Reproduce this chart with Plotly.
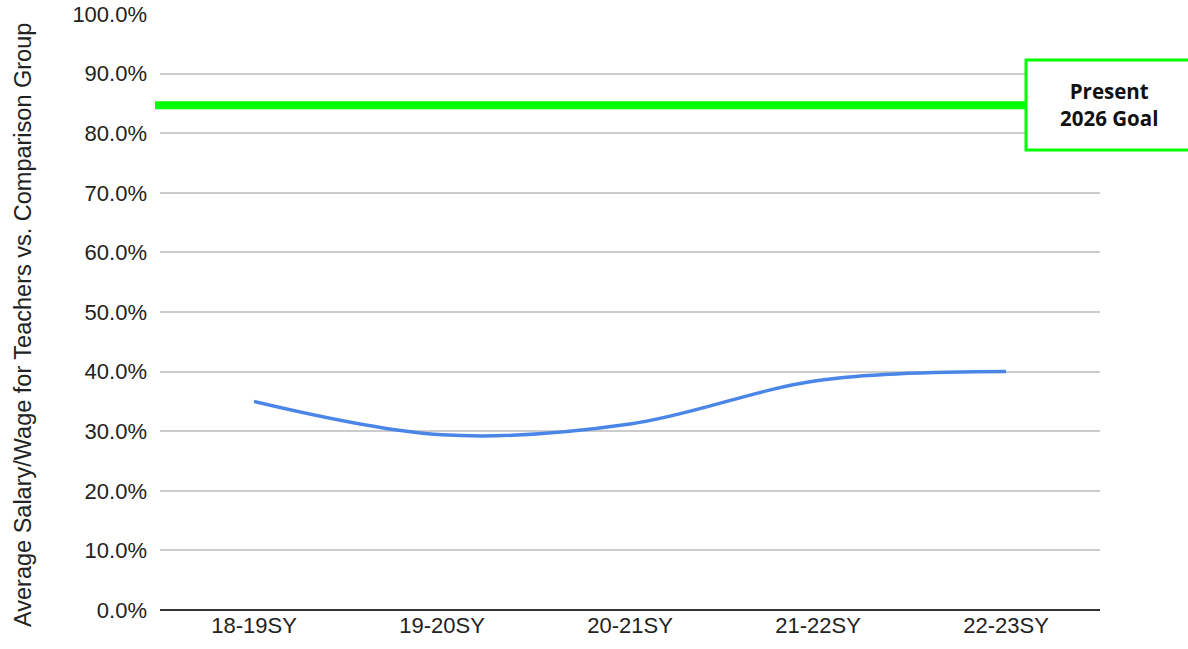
import plotly.graph_objects as go

categories = ["18-19SY", "19-20SY", "20-21SY", "21-22SY", "22-23SY"]
values = [35.0, 29.4, 31.2, 38.5, 40.0]
goal_value = 84.7
goal_label = "Present<br>2026 Goal"
y_ticks = [0, 10, 20, 30, 40, 50, 60, 70, 80, 90, 100]
y_title = "Average Salary/Wage for Teachers vs. Comparison Group"

W, H = 1188, 649
L, R, T, B = 160, 88, 14, 39
pw, ph = W - L - R, H - T - B

def px_x(p):
    return (p - L) / pw

def px_y(p):
    return (H - B - p) / ph

fig = go.Figure()
fig.add_trace(go.Scatter(
    x=categories, y=values, mode="lines",
    line=dict(color="#4a86e8", width=3.5, shape="spline", smoothing=1.0),
    showlegend=False, hoverinfo="x+y",
))

fig.add_shape(type="line", xref="paper", yref="y",
              x0=px_x(155), x1=px_x(1025), y0=goal_value, y1=goal_value,
              line=dict(color="#00ff00", width=8), layer="above")
fig.add_shape(type="rect", xref="paper", yref="paper",
              x0=px_x(1026), x1=px_x(1200), y0=px_y(150), y1=px_y(60),
              line=dict(color="#00ff00", width=3), fillcolor="white", layer="above")
fig.add_annotation(xref="paper", yref="paper", x=px_x(1109), y=px_y(105),
                   xanchor="center", yanchor="middle",
                   text="<b>" + goal_label + "</b>", showarrow=False,
                   font=dict(family="Open Sans, Lato, sans-serif", size=20.5, color="#111111"),
                   align="center")

fig.add_annotation(xref="paper", yref="paper", x=px_x(23), y=px_y(325),
                   xanchor="center", yanchor="middle",
                   text=y_title, showarrow=False, textangle=-90,
                   font=dict(family="Liberation Sans, Arial, sans-serif", size=23.5, color="#222222"))

fig.update_layout(
    width=W, height=H,
    margin=dict(l=L, r=R, t=T, b=B, pad=0, autoexpand=False),
    plot_bgcolor="white", paper_bgcolor="white",
    font=dict(family="Liberation Sans, Arial, sans-serif", size=22, color="#222222"),
    xaxis=dict(range=[-0.5, 4.5], showgrid=False, showline=False, ticks="",
               tickfont=dict(size=22, color="#222222"), zeroline=False, automargin=False),
    yaxis=dict(range=[0, 100], tickvals=y_ticks,
               ticktext=[f"{v:.1f}%" for v in y_ticks],
               showgrid=True, gridcolor="#cccccc", gridwidth=1.5,
               zeroline=True, zerolinecolor="#333333", zerolinewidth=1.5,
               showline=False, ticks="", ticklabelstandoff=12, automargin=False,
               tickfont=dict(size=22, color="#222222")),
)

fig.write_html("out.html", config={"displayModeBar": False},
               post_script="document.body.style.margin='0';")
